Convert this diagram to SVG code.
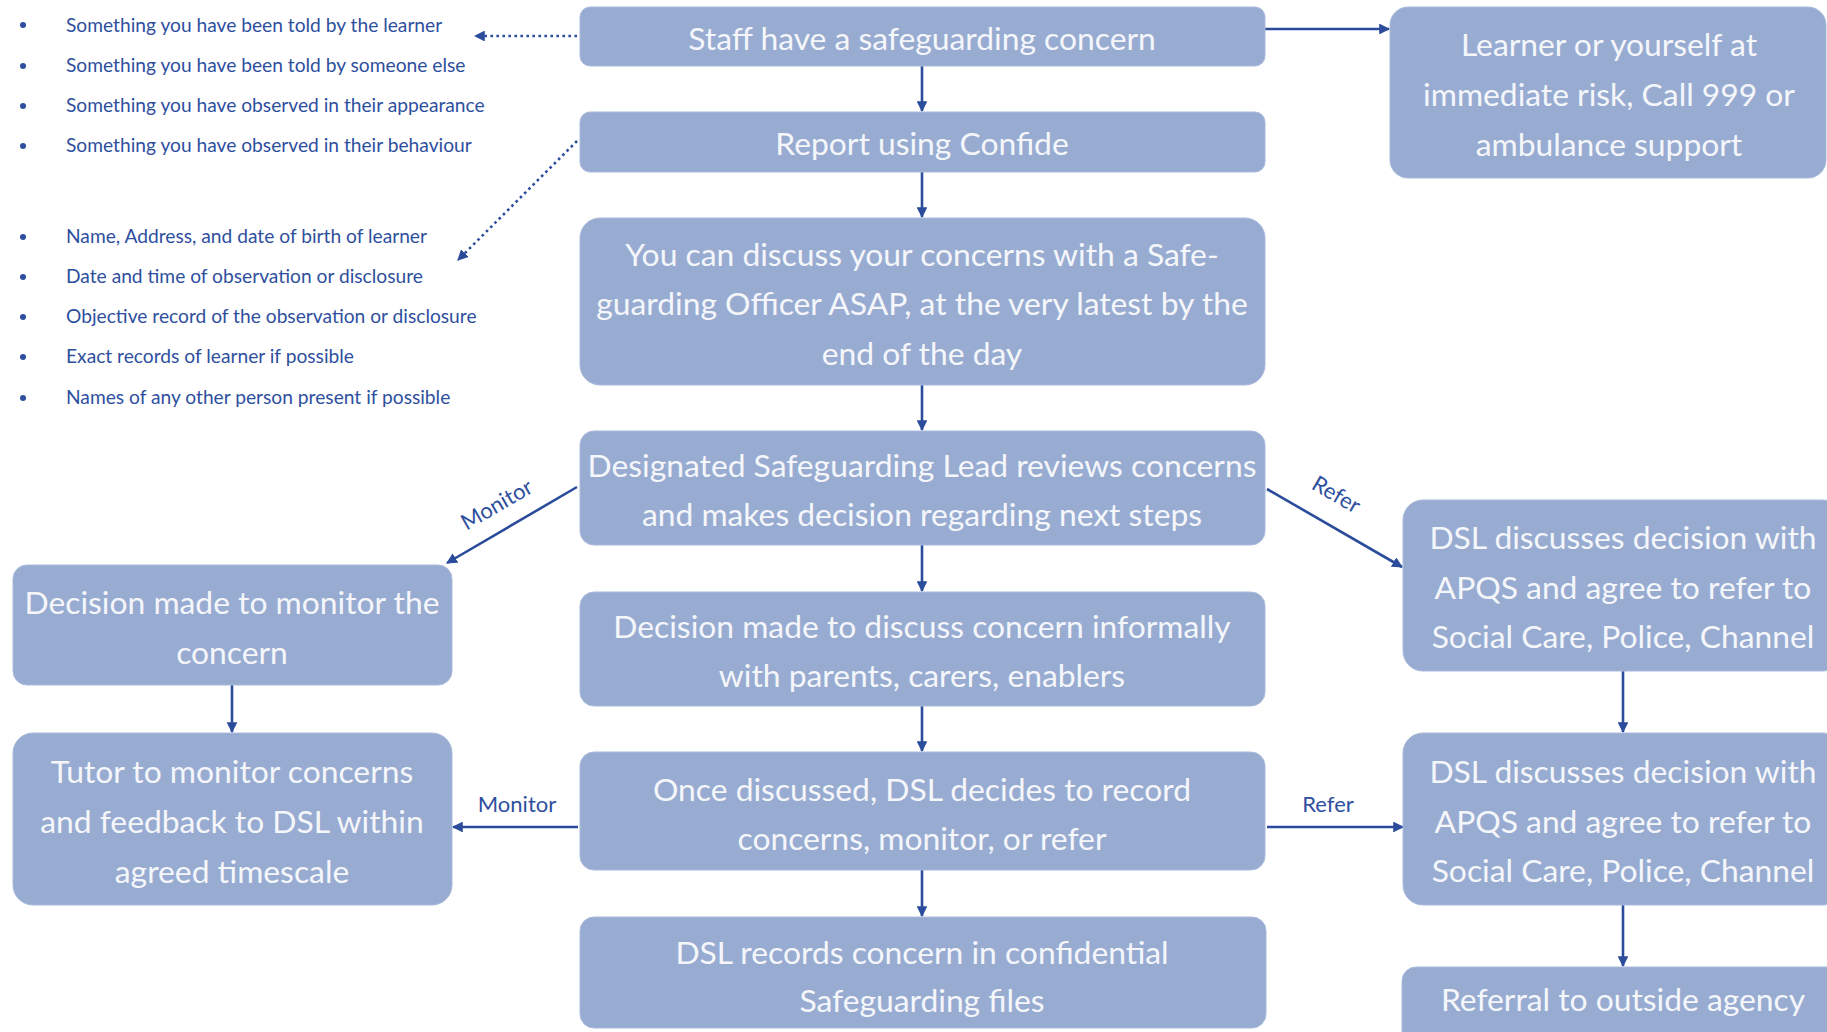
<svg xmlns="http://www.w3.org/2000/svg" width="1827" height="1032" viewBox="0 0 1827 1032">
<defs>
<style>
.box{fill:#98ACD2;stroke:#A9BADB;stroke-width:1}
.bt{font-family:Lato,"Liberation Sans",sans-serif;font-size:31.8px;fill:#F5F6FA;text-anchor:middle}
.bl{font-family:Lato,"Liberation Sans",sans-serif;font-size:19.2px;fill:#2E4F9E}
.lb{font-family:Lato,"Liberation Sans",sans-serif;font-size:22px;fill:#2E4F9E;text-anchor:middle}
.ln{stroke:#2B4C9B;stroke-width:2.6;fill:none}
.dt{stroke:#2B4C9B;stroke-width:2.6;fill:none;stroke-dasharray:2.6 3.4}
.dot{fill:#2E4F9E}
</style>
<marker id="ah" viewBox="0 0 10 10" refX="9" refY="5" markerWidth="4.2" markerHeight="4.2" orient="auto" markerUnits="strokeWidth">
<path d="M0,0 L10,5 L0,10 z" fill="#2B4C9B"/>
</marker>
</defs>
<rect width="1827" height="1032" fill="#FFFFFF"/>

<g id="bullets">
<circle class="dot" cx="23" cy="25" r="3"/>
<text class="bl" x="66" y="32">Something you have been told by the learner</text>
<circle class="dot" cx="23" cy="66" r="3"/>
<text class="bl" x="66" y="72">Something you have been told by someone else</text>
<circle class="dot" cx="23" cy="106" r="3"/>
<text class="bl" x="66" y="112">Something you have observed in their appearance</text>
<circle class="dot" cx="23" cy="146" r="3"/>
<text class="bl" x="66" y="152">Something you have observed in their behaviour</text>
<circle class="dot" cx="23" cy="237" r="3"/>
<text class="bl" x="66" y="243">Name, Address, and date of birth of learner</text>
<circle class="dot" cx="23" cy="277" r="3"/>
<text class="bl" x="66" y="283">Date and time of observation or disclosure</text>
<circle class="dot" cx="23" cy="317" r="3"/>
<text class="bl" x="66" y="323">Objective record of the observation or disclosure</text>
<circle class="dot" cx="23" cy="357" r="3"/>
<text class="bl" x="66" y="363">Exact records of learner if possible</text>
<circle class="dot" cx="23" cy="398" r="3"/>
<text class="bl" x="66" y="404">Names of any other person present if possible</text>
</g>

<g id="connectors">
<line class="ln" x1="922" y1="66" x2="922" y2="111" marker-end="url(#ah)"/>
<line class="ln" x1="922" y1="172" x2="922" y2="217" marker-end="url(#ah)"/>
<line class="ln" x1="922" y1="385" x2="922" y2="430" marker-end="url(#ah)"/>
<line class="ln" x1="922" y1="545" x2="922" y2="591" marker-end="url(#ah)"/>
<line class="ln" x1="922" y1="706" x2="922" y2="751" marker-end="url(#ah)"/>
<line class="ln" x1="922" y1="870" x2="922" y2="916" marker-end="url(#ah)"/>
<line class="ln" x1="1265" y1="29" x2="1389" y2="29" marker-end="url(#ah)"/>
<line class="dt" x1="577" y1="36" x2="475" y2="36" marker-end="url(#ah)"/>
<line class="dt" x1="577" y1="141" x2="458" y2="260" marker-end="url(#ah)"/>
<line class="ln" x1="577" y1="487" x2="447" y2="563" marker-end="url(#ah)"/>
<line class="ln" x1="1267" y1="489" x2="1402" y2="567" marker-end="url(#ah)"/>
<line class="ln" x1="232" y1="685" x2="232" y2="732" marker-end="url(#ah)"/>
<line class="ln" x1="578" y1="827" x2="453" y2="827" marker-end="url(#ah)"/>
<line class="ln" x1="1267" y1="827" x2="1403" y2="827" marker-end="url(#ah)"/>
<line class="ln" x1="1623" y1="671" x2="1623" y2="732" marker-end="url(#ah)"/>
<line class="ln" x1="1623" y1="905" x2="1623" y2="966" marker-end="url(#ah)"/>
<text class="lb" transform="translate(497,505) rotate(-30)" y="7">Monitor</text>
<text class="lb" transform="translate(1336,495) rotate(30)" y="7">Refer</text>
<text class="lb" x="517" y="812">Monitor</text>
<text class="lb" x="1328" y="812">Refer</text>
</g>

<g id="n-staff">
<rect class="box" x="580" y="7" width="685" height="59" rx="10"/>
<text class="bt" x="922" y="50">Staff have a safeguarding concern</text>
</g>
<g id="n-report">
<rect class="box" x="580" y="112" width="685" height="60" rx="10"/>
<text class="bt" x="922" y="155">Report using Confide</text>
</g>
<g id="n-discuss">
<rect class="box" x="580" y="218" width="685" height="167" rx="20"/>
<text class="bt" x="922" y="266">You can discuss your concerns with a Safe-</text>
<text class="bt" x="922" y="315">guarding Officer ASAP, at the very latest by the</text>
<text class="bt" x="922" y="365">end of the day</text>
</g>
<g id="n-learner">
<rect class="box" x="1390" y="7" width="436" height="171" rx="18"/>
<text class="bt" x="1609" y="56">Learner or yourself at</text>
<text class="bt" x="1609" y="106">immediate risk, Call 999 or</text>
<text class="bt" x="1609" y="156">ambulance support</text>
</g>
<g id="n-dsl-lead">
<rect class="box" x="580" y="431" width="685" height="114" rx="14"/>
<text class="bt" x="922" y="477">Designated Safeguarding Lead reviews concerns</text>
<text class="bt" x="922" y="526">and makes decision regarding next steps</text>
</g>
<g id="n-informal">
<rect class="box" x="580" y="592" width="685" height="114" rx="14"/>
<text class="bt" x="922" y="638">Decision made to discuss concern informally</text>
<text class="bt" x="922" y="687">with parents, carers, enablers</text>
</g>
<g id="n-once">
<rect class="box" x="580" y="752" width="685" height="118" rx="14"/>
<text class="bt" x="922" y="801">Once discussed, DSL decides to record</text>
<text class="bt" x="922" y="850">concerns, monitor, or refer</text>
</g>
<g id="n-records">
<rect class="box" x="580" y="917" width="686" height="111" rx="14"/>
<text class="bt" x="922" y="964">DSL records concern in confidential</text>
<text class="bt" x="922" y="1012">Safeguarding files</text>
</g>
<g id="n-monitor">
<rect class="box" x="13" y="565" width="439" height="120" rx="14"/>
<text class="bt" x="232" y="614">Decision made to monitor the</text>
<text class="bt" x="232" y="664">concern</text>
</g>
<g id="n-tutor">
<rect class="box" x="13" y="733" width="439" height="172" rx="20"/>
<text class="bt" x="232" y="783">Tutor to monitor concerns</text>
<text class="bt" x="232" y="833">and feedback to DSL within</text>
<text class="bt" x="232" y="883">agreed timescale</text>
</g>
<g id="n-refer1">
<rect class="box" x="1403" y="500" width="440" height="171" rx="20"/>
<text class="bt" x="1623" y="549">DSL discusses decision with</text>
<text class="bt" x="1623" y="599">APQS and agree to refer to</text>
<text class="bt" x="1623" y="648">Social Care, Police, Channel</text>
</g>
<g id="n-refer2">
<rect class="box" x="1403" y="733" width="440" height="172" rx="20"/>
<text class="bt" x="1623" y="783">DSL discusses decision with</text>
<text class="bt" x="1623" y="833">APQS and agree to refer to</text>
<text class="bt" x="1623" y="882">Social Care, Police, Channel</text>
</g>
<g id="n-referral">
<rect class="box" x="1402" y="967" width="441" height="90" rx="14"/>
<text class="bt" x="1623" y="1011">Referral to outside agency</text>
</g>
</svg>
